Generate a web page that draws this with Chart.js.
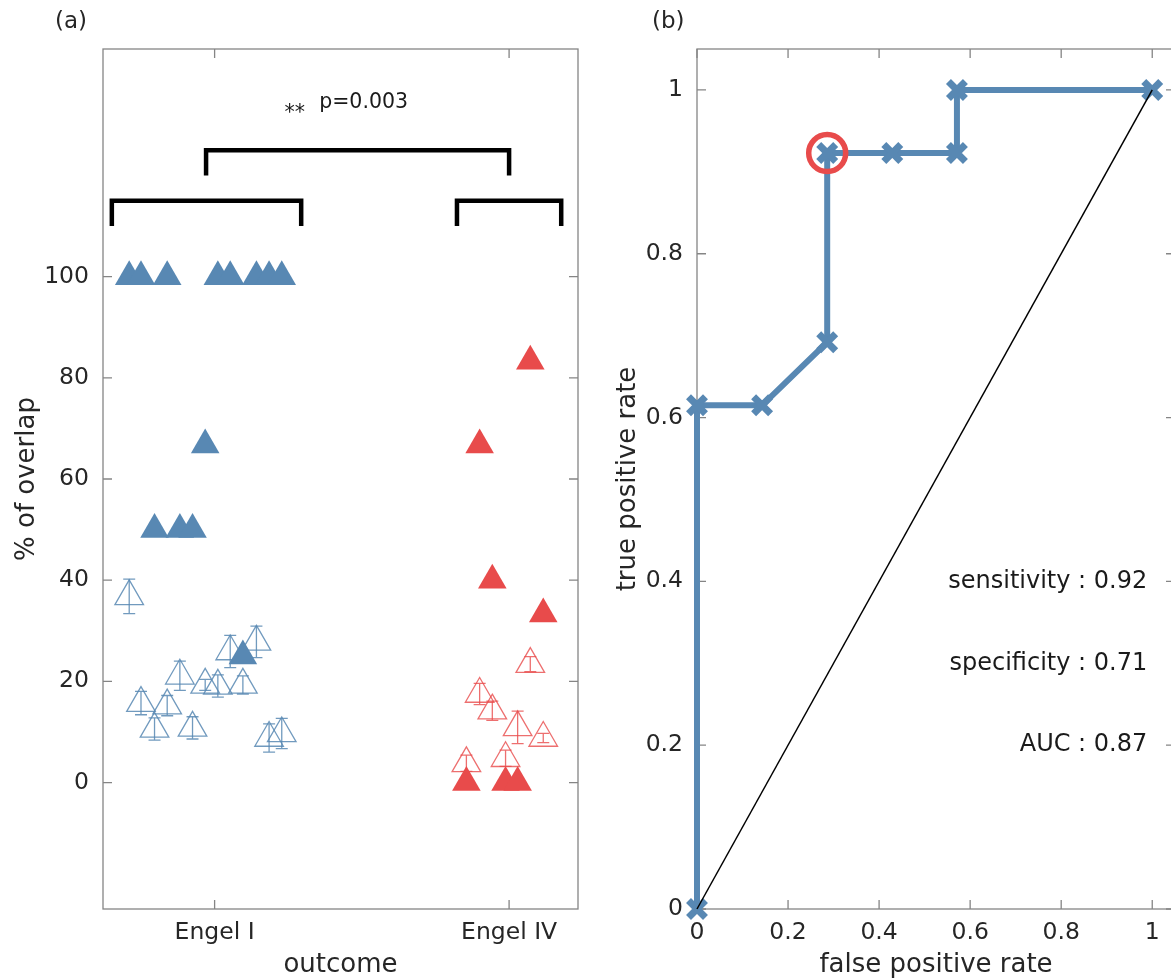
<!DOCTYPE html>
<html>
<head>
<meta charset="utf-8">
<title>Overlap by outcome and ROC</title>
<script src="https://cdn.jsdelivr.net/npm/chart.js@4.4.1/dist/chart.umd.min.js"></script>
<style>
  html, body { margin: 0; padding: 0; background: #fff; overflow: hidden; }
  #wrap { position: relative; width: 1171px; height: 979px; overflow: hidden; }
  canvas { position: absolute; top: 0; }
  #panelA { left: 0; }
  #panelB { left: 600px; }
</style>
</head>
<body>
<div id="wrap">
  <canvas id="panelA" width="600" height="979"></canvas>
  <canvas id="panelB" width="600" height="979"></canvas>
</div>
<script>
// ---- panel (a): % of overlap per patient, grouped by outcome ----
const outcomeTicks = [1, 2];
const outcomeLabels = ['Engel I', 'Engel IV'];
const overlapTicks = [0, 20, 40, 60, 80, 100];
const overlapLabels = ['0', '20', '40', '60', '80', '100'];

// jittered patient positions inside each group
const engel1X = [0.710, 0.750, 0.796, 0.839, 0.882, 0.925, 0.968, 1.011, 1.053, 1.096, 1.142, 1.185, 1.228];
const engel4X = [1.855, 1.900, 1.943, 1.988, 2.029, 2.072, 2.116];

// filled markers
const engel1Full = [100, 100, 50, 100, 50, 50, 66.7, 100, 100, 25, 100, 100, 100];
const engel4Full = [0, 66.7, 40, 0, 0, 83.3, 33.3];
// open markers with error bars
const engel1Open = [36.8, 15.7, 10.6, 15.2, 21.1, 10.8, 19.3, 19.1, 25.9, 19.3, 27.8, 8.8, 9.7];
const engel1Err  = [3.4, 2.3, 2.2, 2.0, 2.9, 2.2, 1.1, 2.2, 3.2, 1.8, 3.1, 2.8, 3.0];
const engel4Open = [3.8, 17.5, 14.2, 4.8, 10.9, 23.4, 8.8];
const engel4Err  = [1.6, 2.1, 1.9, 1.6, 3.2, 1.5, 0.9];

// significance brackets
const bracket1X = [0.651, 0.651, 1.294, 1.294];
const bracket4X = [1.823, 1.823, 2.177, 2.177];
const bracketLowY = [110, 115, 115, 110];
const bracketTopX = [0.971, 0.971, 2.0, 2.0];
const bracketTopY = [120, 125, 125, 120];

// ---- panel (b): ROC curve ----
const rateTicks = [0, 0.2, 0.4, 0.6, 0.8, 1];
const rateLabels = ['0', '0.2', '0.4', '0.6', '0.8', '1'];
const fpr = [0, 0, 0.143, 0.286, 0.286, 0.429, 0.571, 0.571, 1];
const tpr = [0, 0.615, 0.615, 0.692, 0.923, 0.923, 0.923, 1, 1];
const chancePoints = [0, 1];
const bestFpr = 0.286;
const bestTpr = 0.923;
const rocStats = ['sensitivity : 0.92', 'specificity : 0.71', 'AUC : 0.87'];
const rocStatsY = [0.4, 0.3, 0.2];

const blue = '#5888b3';
const blueThin = 'rgba(88,136,179,0.85)';
const red = '#e84b4b';
const redThin = 'rgba(232,75,75,0.8)';
const FONT = '"DejaVu Sans", sans-serif';

Chart.defaults.font.family = FONT;

function pts(xs, ys) {
  return xs.map((x, i) => ({ x: x, y: ys[i] }));
}

// box frame with inward ticks on all four sides, tick labels and titles
const boxAxes = {
  id: 'boxAxes',
  beforeDatasetsDraw(chart, args, o) {
    const ctx = chart.ctx, a = chart.chartArea;
    const sx = chart.scales.x, sy = chart.scales.y;
    ctx.save();
    ctx.strokeStyle = '#858585';
    ctx.lineWidth = 1.3;
    ctx.strokeRect(a.left, a.top, a.right - a.left, a.bottom - a.top);
    ctx.beginPath();
    o.xTicks.forEach(v => {
      const px = sx.getPixelForValue(v);
      ctx.moveTo(px, a.bottom); ctx.lineTo(px, a.bottom - 9);
      ctx.moveTo(px, a.top); ctx.lineTo(px, a.top + 9);
    });
    o.yTicks.forEach(v => {
      const py = sy.getPixelForValue(v);
      ctx.moveTo(a.left, py); ctx.lineTo(a.left + 9, py);
      ctx.moveTo(a.right, py); ctx.lineTo(a.right - 9, py);
    });
    ctx.stroke();

    ctx.fillStyle = '#262626';
    ctx.font = '23.5px ' + FONT;
    ctx.textBaseline = 'middle';
    ctx.textAlign = 'center';
    o.xTicks.forEach((v, i) => ctx.fillText(o.xLabels[i], sx.getPixelForValue(v), a.bottom + 24));
    ctx.textAlign = 'right';
    o.yTicks.forEach((v, i) => ctx.fillText(o.yLabels[i], a.left - 14, sy.getPixelForValue(v)));

    ctx.font = '26px ' + FONT;
    ctx.textAlign = 'center';
    ctx.fillText(o.xTitle, (a.left + a.right) / 2, a.bottom + 56);
    ctx.save();
    ctx.translate(o.yTitleX, (a.top + a.bottom) / 2);
    ctx.rotate(-Math.PI / 2);
    ctx.fillText(o.yTitle, 0, 0);
    ctx.restore();

    ctx.font = '23px ' + FONT;
    ctx.textAlign = 'left';
    ctx.fillText(o.panel, o.panelX, 22);
    ctx.restore();
  }
};

// vertical error bars with caps, drawn right after their own dataset
const errorBars = {
  id: 'errorBars',
  afterDatasetDraw(chart, args) {
    const ds = chart.data.datasets[args.index];
    if (!ds.err) return;
    const ctx = chart.ctx, sx = chart.scales.x, sy = chart.scales.y;
    ctx.save();
    ctx.strokeStyle = ds.borderColor;
    ctx.lineWidth = 1.3;
    ctx.beginPath();
    ds.data.forEach((p, i) => {
      const px = sx.getPixelForValue(p.x);
      const top = sy.getPixelForValue(p.y + ds.err[i]);
      const bot = sy.getPixelForValue(p.y - ds.err[i]);
      ctx.moveTo(px, top); ctx.lineTo(px, bot);
      ctx.moveTo(px - 6, top); ctx.lineTo(px + 6, top);
      ctx.moveTo(px - 6, bot); ctx.lineTo(px + 6, bot);
    });
    ctx.stroke();
    ctx.restore();
  }
};

// free text placed in data coordinates
const notes = {
  id: 'notes',
  afterDatasetsDraw(chart, args, o) {
    const ctx = chart.ctx, sx = chart.scales.x, sy = chart.scales.y;
    ctx.save();
    ctx.fillStyle = '#1a1a1a';
    (o.items || []).forEach(n => {
      ctx.font = n.size + 'px ' + FONT;
      ctx.textAlign = n.align || 'left';
      let py = sy.getPixelForValue(n.y);
      if (n.centre) {
        ctx.textBaseline = 'alphabetic';
        const m = ctx.measureText(n.text);
        py += (m.actualBoundingBoxAscent - m.actualBoundingBoxDescent) / 2;
      } else {
        ctx.textBaseline = n.baseline || 'middle';
      }
      ctx.fillText(n.text, sx.getPixelForValue(n.x), py);
    });
    ctx.restore();
  }
};

const common = {
  responsive: false,
  animation: false,
  events: [],
  elements: { line: { tension: 0 } }
};

new Chart(document.getElementById('panelA'), {
  type: 'scatter',
  data: {
    datasets: [
      { data: pts(engel1X, engel1Full), order: 1, clip: false,
        pointStyle: 'triangle', pointRadius: 16.5, backgroundColor: blue, borderWidth: 0 },
      { data: pts(engel4X, engel4Full), order: 1, clip: false,
        pointStyle: 'triangle', pointRadius: 16.5, backgroundColor: red, borderWidth: 0 },
      { data: pts(engel1X, engel1Open), err: engel1Err, order: 2, clip: false,
        pointStyle: 'triangle', pointRadius: 16.5, backgroundColor: 'rgba(0,0,0,0)',
        borderColor: blueThin, borderWidth: 1.3 },
      { data: pts(engel4X, engel4Open), err: engel4Err, order: 2, clip: false,
        pointStyle: 'triangle', pointRadius: 16.5, backgroundColor: 'rgba(0,0,0,0)',
        borderColor: redThin, borderWidth: 1.3 },
      { data: pts(bracket1X, bracketLowY), showLine: true, pointRadius: 0, order: 3,
        borderColor: '#000', borderWidth: 4.5 },
      { data: pts(bracket4X, bracketLowY), showLine: true, pointRadius: 0, order: 3,
        borderColor: '#000', borderWidth: 4.5 },
      { data: pts(bracketTopX, bracketTopY), showLine: true, pointRadius: 0, order: 3,
        borderColor: '#000', borderWidth: 4.5 }
    ]
  },
  options: Object.assign({}, common, {
    layout: { padding: { left: 103, right: 22, top: 49, bottom: 70 } },
    scales: {
      x: { type: 'linear', min: 0.621, max: 2.234, display: false },
      y: { type: 'linear', min: -25, max: 145, display: false }
    },
    plugins: {
      legend: { display: false },
      tooltip: { enabled: false },
      boxAxes: {
        xTicks: outcomeTicks, xLabels: outcomeLabels,
        yTicks: overlapTicks, yLabels: overlapLabels,
        xTitle: 'outcome', yTitle: '% of overlap', yTitleX: 27,
        panel: '(a)', panelX: 55
      },
      notes: {
        items: [
          { x: 1.272, y: 133.4, text: '**', size: 20.5, align: 'center', centre: true },
          { x: 1.355, y: 133.4, text: 'p=0.003', size: 20.5, align: 'left', baseline: 'alphabetic' }
        ]
      }
    }
  }),
  plugins: [boxAxes, errorBars, notes]
});

new Chart(document.getElementById('panelB'), {
  type: 'scatter',
  data: {
    datasets: [
      { data: pts(chancePoints, chancePoints), showLine: true, pointRadius: 0, order: 1,
        borderColor: '#000', borderWidth: 1.5, clip: false },
      { data: [{ x: bestFpr, y: bestTpr }], order: 2, clip: false,
        pointStyle: 'circle', pointRadius: 18.5, backgroundColor: 'rgba(0,0,0,0)',
        borderColor: red, borderWidth: 5.5 },
      { data: pts(fpr, tpr), showLine: true, order: 3, clip: false,
        borderColor: blue, borderWidth: 6, borderJoinStyle: 'miter',
        pointStyle: 'crossRot', pointRadius: 12, pointBorderWidth: 7,
        pointBorderColor: blue, pointBackgroundColor: blue }
    ]
  },
  options: Object.assign({}, common, {
    layout: { padding: { left: 97, right: 25, top: 49, bottom: 70 } },
    scales: {
      x: { type: 'linear', min: 0, max: 1.05, display: false },
      y: { type: 'linear', min: 0, max: 1.05, display: false }
    },
    plugins: {
      legend: { display: false },
      tooltip: { enabled: false },
      boxAxes: {
        xTicks: rateTicks, xLabels: rateLabels,
        yTicks: rateTicks, yLabels: rateLabels,
        xTitle: 'false positive rate', yTitle: 'true positive rate', yTitleX: 28,
        panel: '(b)', panelX: 52
      },
      notes: {
        items: rocStats.map((t, i) => ({ x: 0.989, y: rocStatsY[i], text: t, size: 24, align: 'right' }))
      }
    }
  }),
  plugins: [boxAxes, notes]
});
</script>
</body>
</html>
